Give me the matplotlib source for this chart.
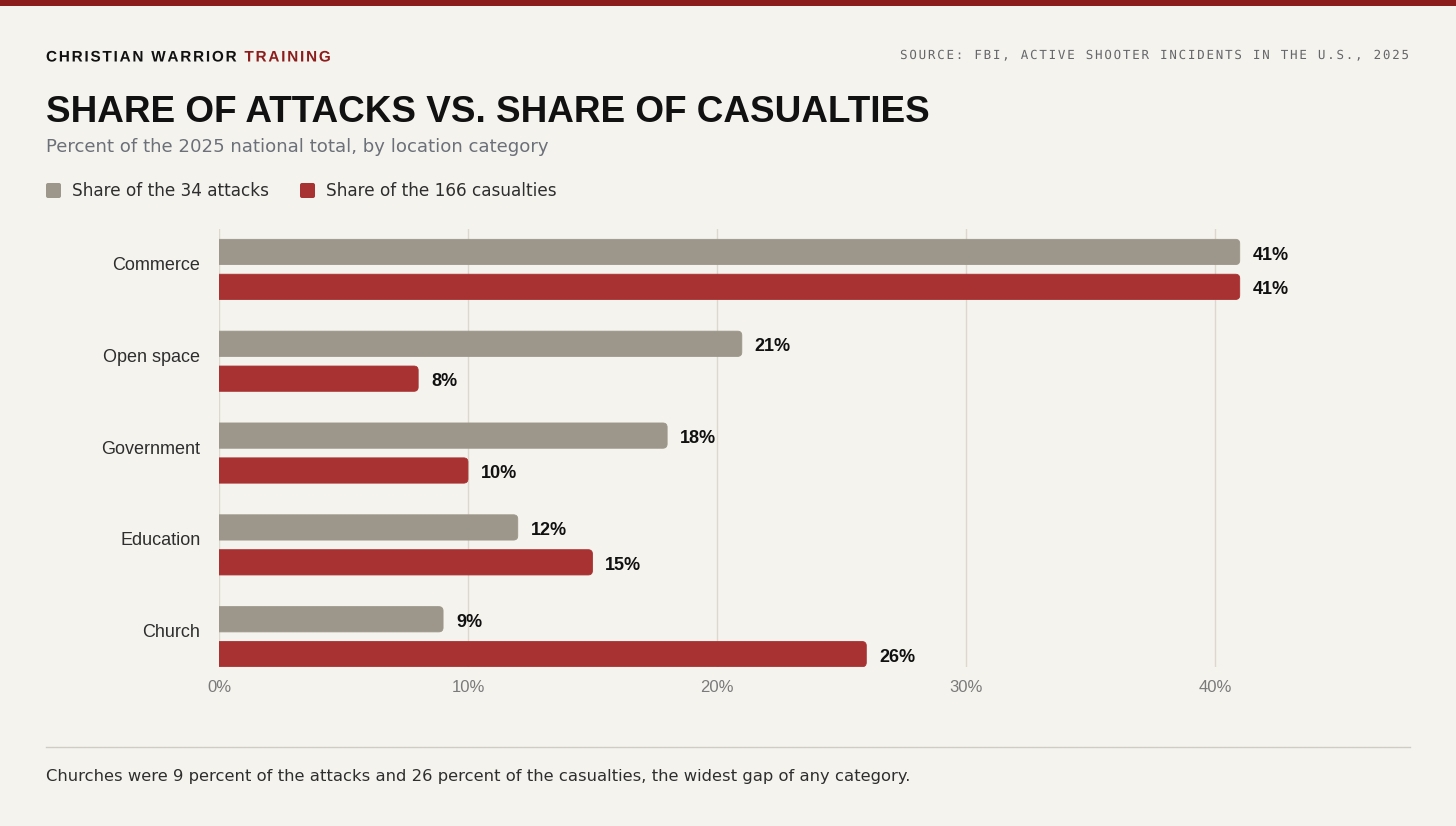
import matplotlib
matplotlib.use("Agg")
import matplotlib.pyplot as plt
from matplotlib.patches import FancyBboxPatch, Rectangle, PathPatch
from matplotlib.font_manager import FontProperties, findfont, get_font
from matplotlib.textpath import TextPath
from matplotlib.transforms import Affine2D
from matplotlib.lines import Line2D

# data
categories = ["Commerce", "Open space", "Government", "Education", "Church"]
attack_share = [41, 21, 18, 12, 9]
casualty_share = [41, 8, 10, 15, 26]
x_ticks = [0, 10, 20, 30, 40]
tick_labels = ["0%", "10%", "20%", "30%", "40%"]
legend_labels = ["Share of the 34 attacks", "Share of the 166 casualties"]

BG = "#F5F3EE"
GRAY = "#9C978A"
RED = "#A83232"
DARK_RED = "#8C1D1D"
W, H = 1456, 826
DPI = 100


def fx(x):
    return x / W


def fy(y):
    return 1 - y / H


def spaced_text(fig, x, y, s, size, spacing, color, family, weight="normal", ha="left"):
    """letter-spaced text drawn as glyph paths (pixel coords from top-left, y = baseline)"""
    fp = FontProperties(family=family, weight=weight)
    size_px = size * DPI / 72
    font = get_font(findfont(fp))
    font.set_size(size_px, 72)
    adv = []
    for c in s:
        g = font.load_char(ord(c))
        adv.append(g.linearHoriAdvance / 65536 + spacing)
    total = sum(adv) - spacing
    if ha == "right":
        x = x - total
    to_fig = Affine2D().scale(1 / W, 1 / H) + fig.transFigure
    for c, a in zip(s, adv):
        if c != " ":
            tp = TextPath((x, H - y), c, size=size_px, prop=fp)
            fig.patches.append(PathPatch(tp, transform=to_fig, facecolor=color,
                                         edgecolor="none", snap=False))
        x += a
    return x


fig = plt.figure(figsize=(W / DPI, H / DPI), dpi=DPI)
fig.patch.set_facecolor(BG)

# top stripe
fig.patches.append(Rectangle((0, fy(6)), 1, 6 / H, transform=fig.transFigure,
                             facecolor=DARK_RED, edgecolor="none"))

# header
x_end = spaced_text(fig, 46, 61.5, "CHRISTIAN WARRIOR ", 11, 1.8, "#111111",
                    "Liberation Sans", weight="bold")
spaced_text(fig, x_end, 61.5, "TRAINING", 11, 1.8, DARK_RED, "Liberation Sans", weight="bold")
spaced_text(fig, 1409, 59, "SOURCE: FBI, ACTIVE SHOOTER INCIDENTS IN THE U.S., 2025", 9, 1.76,
            "#66676B", "DejaVu Sans Mono", ha="right")

fig.text(fx(46), fy(122), "SHARE OF ATTACKS VS. SHARE OF CASUALTIES", family="Liberation Sans",
         weight="bold", fontsize=26.6, color="#111111", va="baseline")
fig.text(fx(46), fy(152), "Percent of the 2025 national total, by location category",
         family="DejaVu Sans", fontsize=13.1, color="#6B7079", va="baseline")

# legend
leg_x = [46, 300]
for lx, lab, col in zip(leg_x, legend_labels, [GRAY, RED]):
    fig.patches.append(FancyBboxPatch((fx(lx), fy(198)), 15 / W, 15 / H,
                                      boxstyle="round,pad=0,rounding_size=%f" % (2 / W),
                                      mutation_aspect=W / H, transform=fig.transFigure,
                                      facecolor=col, edgecolor="none"))
    fig.text(fx(lx + 26), fy(195.5), lab, family="DejaVu Sans", fontsize=12.2,
             color="#2E2E2E", va="baseline")

# chart
ax = fig.add_axes([fx(219), fy(667), (1414 - 219) / W, (667 - 229) / H])
ax.set_facecolor(BG)
ypos = list(range(len(categories)))
off = 0.19
bh = 0.275
bars_a = ax.barh([y - off for y in ypos], attack_share, height=bh, color=GRAY)
bars_c = ax.barh([y + off for y in ypos], casualty_share, height=bh, color=RED)

ax.set_xlim(0, 48)
ax.set_ylim(4.33, -0.44)

# swap plain rectangles for ones with rounded right corners
r_x = 0.17
r_px = r_x * (1414 - 219) / 48
r_y = r_px / ((667 - 229) / 4.77)
for bars, col in [(bars_a, GRAY), (bars_c, RED)]:
    for rect in bars:
        x0, y0, w, h = rect.get_x(), rect.get_y(), rect.get_width(), rect.get_height()
        rect.set_visible(False)
        p = FancyBboxPatch((x0 - 1, y0), w + 1, h,
                           boxstyle="round,pad=0,rounding_size=%f" % r_x,
                           mutation_aspect=r_y / r_x, facecolor=col,
                           edgecolor=col, linewidth=0.6, zorder=3)
        ax.add_patch(p)
        ax.annotate("%d%%" % w, (x0 + w, y0 + h / 2), xytext=(9.3, -2.2),
                    textcoords="offset points", va="center", ha="left",
                    family="Liberation Sans", weight="bold", fontsize=13,
                    color="#111111")

ax.set_xticks(x_ticks)
ax.set_xticklabels(tick_labels, family="Liberation Sans", fontsize=12, color="#7A7A7A")
# category labels sit a little above the centre of each pair
ax.set_yticks([y - 0.065 for y in ypos])
ax.set_yticklabels(categories, family="Liberation Sans", fontsize=13, color="#2E2E2E")
ax.tick_params(axis="both", length=0)
ax.tick_params(axis="y", pad=13.5)
ax.tick_params(axis="x", pad=9)
ax.grid(axis="x", color="#DDD8CF", linewidth=1)
ax.set_axisbelow(True)
for s in ax.spines.values():
    s.set_visible(False)

# footer
fig.lines.append(Line2D([fx(46), fx(1410)], [fy(747), fy(747)], transform=fig.transFigure,
                        color="#CFCCC6", linewidth=1))
fig.text(fx(46), fy(781), "Churches were 9 percent of the attacks and 26 percent of the casualties, "
         "the widest gap of any category.", family="DejaVu Sans", fontsize=11.75,
         color="#2E2E2E", va="baseline")

fig.savefig("out.png", dpi=DPI, facecolor=BG)
